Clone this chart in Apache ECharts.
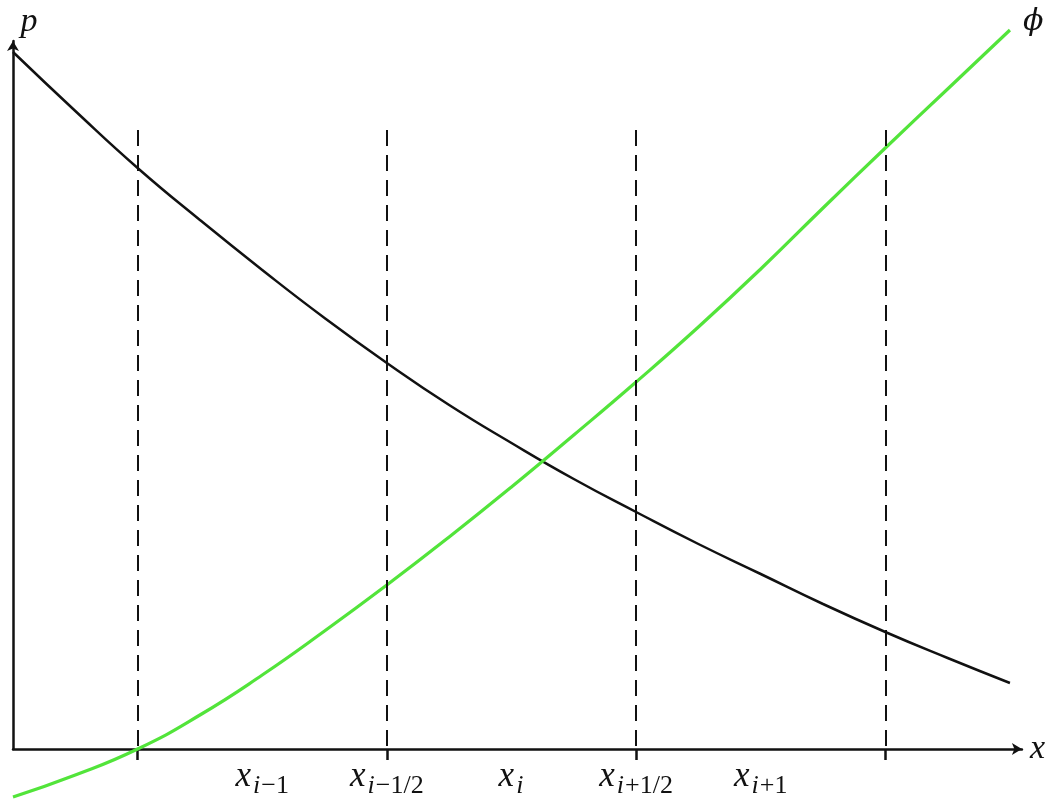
<!DOCTYPE html>
<html>
<head>
<meta charset="utf-8">
<title>p and phi across cells</title>
<script src="https://cdn.jsdelivr.net/npm/echarts@6/dist/echarts.min.js"></script>
<style>
  html, body { margin: 0; padding: 0; background: #ffffff; }
  #chart { width: 1048px; height: 804px; }
</style>
</head>
<body>
<div id="chart"></div>
<script>
// Sample positions along x (one unit per half cell)
const xNodes = [0, 0.5, 1, 1.5, 2, 2.5, 3, 3.5, 4, 4.5, 5, 5.5, 6, 6.5, 7, 7.5, 8];
// Pressure p (decreasing)
const pValues = [6.97, 6.38, 5.81, 5.29, 4.79, 4.31, 3.86, 3.44, 3.06, 2.70, 2.37, 2.05, 1.75, 1.45, 1.17, 0.91, 0.66];
// Potential phi (increasing)
const phiValues = [-0.48, -0.26, 0.00, 0.34, 0.74, 1.18, 1.64, 2.12, 2.62, 3.14, 3.67, 4.22, 4.80, 5.41, 6.01, 6.60, 7.19];
// Cell faces (dashed lines) and their height
const faceEdges = [1, 3, 5, 7];
const faceTop = 6.19;
// Tick labels: node / face positions with subscripts
const labelAt = [2, 3, 4, 5, 6];
const labelSub = ['i−1', 'i−1/2', 'i', 'i+1/2', 'i+1'];

const SERIF = 'Liberation Serif';
const INK = '#111111';
const GREEN = '#52e43a';

// Build "x" with an italic i and upright remainder as the subscript
function subLabel(value) {
  const k = labelAt.indexOf(value);
  if (k < 0) return '';
  const sub = labelSub[k];
  const half = sub.indexOf('/') >= 0;
  const sfx = half ? 'h' : '';
  let s = '{x' + sfx + '|x}{i|i}';
  if (sub.length > 1) s += '{n|' + sub.slice(1) + '}';
  return s;
}

const chart = echarts.init(document.getElementById('chart'), null, { renderer: 'canvas' });

const option = {
  animation: false,
  backgroundColor: '#ffffff',
  grid: { left: 13, right: 23, top: 41, bottom: 55, containLabel: false },
  xAxis: {
    type: 'value',
    min: 0,
    max: 8.096,
    name: 'x',
    nameLocation: 'end',
    nameGap: 8,
    nameTextStyle: { fontFamily: SERIF, fontStyle: 'italic', fontSize: 34, color: INK },
    splitLine: { show: false },
    axisLine: {
      onZero: false,
      lineStyle: { color: INK, width: 2.5 },
      symbol: ['none', 'arrow'],
      symbolSize: [9, 10]
    },
    axisTick: { show: true, customValues: faceEdges, length: 11, lineStyle: { color: INK, width: 2.5 } },
    axisLabel: {
      show: true,
      customValues: labelAt,
      margin: 15,
      formatter: subLabel,
      color: INK,
      rich: {
        x:  { fontFamily: SERIF, fontStyle: 'italic', fontSize: 35, lineHeight: 35, verticalAlign: 'bottom', padding: [0, 2, 5, 0], color: INK },
        xh: { fontFamily: SERIF, fontStyle: 'italic', fontSize: 35, lineHeight: 35, verticalAlign: 'bottom', padding: [5, 2, 5, 0], color: INK },
        i:  { fontFamily: SERIF, fontStyle: 'italic', fontSize: 26, lineHeight: 26, verticalAlign: 'bottom', padding: [0, 1, 0, 0], color: INK },
        n:  { fontFamily: SERIF, fontSize: 26, lineHeight: 26, verticalAlign: 'bottom', color: INK }
      }
    }
  },
  yAxis: {
    type: 'value',
    min: 0,
    max: 7.08,
    name: 'p',
    nameLocation: 'end',
    nameGap: 2,
    nameTextStyle: { fontFamily: SERIF, fontStyle: 'italic', fontSize: 34, color: INK, padding: [0, 0, 0, 32] },
    splitLine: { show: false },
    axisLine: {
      onZero: false,
      lineStyle: { color: INK, width: 2.5 },
      symbol: ['none', 'arrow'],
      symbolSize: [9, 10]
    },
    axisTick: { show: false },
    axisLabel: { show: false }
  },
  series: [
    {
      name: 'faces',
      type: 'line',
      data: [],
      silent: true,
      markLine: {
        silent: true,
        symbol: ['none', 'none'],
        label: { show: false },
        lineStyle: { color: INK, width: 2, type: [16, 9] },
        data: faceEdges.map(function (e) { return [{ coord: [e, faceTop] }, { coord: [e, 0] }]; })
      }
    },
    {
      name: 'p',
      type: 'line',
      data: xNodes.map(function (x, k) { return [x, pValues[k]]; }),
      smooth: 0.5,
      showSymbol: false,
      clip: false,
      lineStyle: { color: INK, width: 2.5 }
    },
    {
      name: 'phi',
      type: 'line',
      data: xNodes.map(function (x, k) { return [x, phiValues[k]]; }),
      smooth: 0.5,
      showSymbol: false,
      clip: false,
      lineStyle: { color: GREEN, width: 3.2 },
      endLabel: {
        show: true,
        formatter: 'ϕ',
        fontFamily: 'DejaVu Serif',
        fontStyle: 'italic',
        fontSize: 30,
        color: INK,
        offset: [5, -8]
      }
    }
  ]
};

chart.setOption(option);
</script>
</body>
</html>
